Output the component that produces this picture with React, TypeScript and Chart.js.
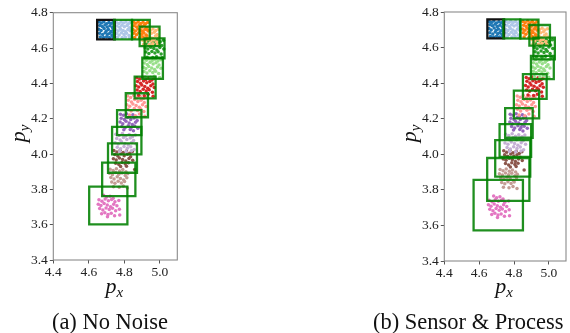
import React, { useEffect, useRef } from "react";
import { Chart, registerables } from "chart.js";
Chart.register(...registerables);

const FONT = '"Liberation Serif", "Times New Roman", serif';

const X_TICKS = [4.4, 4.6, 4.8, 5.0];
const Y_TICKS = [3.4, 3.6, 3.8, 4.0, 4.2, 4.4, 4.6, 4.8];
const X_MIN = 4.4;
const X_MAX = 5.098;
const Y_MIN = 3.4;
const Y_MAX = 4.8;

const STEP_COLORS = [
  "#1f77b4", "#aec7e8", "#ff7f0e", "#ffbb78", "#2ca02c", "#98df8a",
  "#d62728", "#ff9896", "#9467bd", "#c5b0d5", "#8c564b", "#c49c94", "#e377c2",
];

const blue = [
  [4.658,4.747],[4.671,4.741],[4.684,4.749],[4.699,4.738],[4.713,4.745],[4.727,4.740],[4.739,4.748],
  [4.662,4.728],[4.676,4.722],[4.691,4.731],[4.704,4.719],[4.719,4.726],[4.733,4.716],[4.741,4.731],
  [4.656,4.707],[4.669,4.699],[4.686,4.710],[4.698,4.697],[4.710,4.705],[4.725,4.694],[4.737,4.703],
  [4.661,4.684],[4.678,4.676],[4.692,4.687],[4.706,4.678],[4.718,4.683],[4.731,4.673],[4.740,4.687],
  [4.665,4.662],[4.683,4.660],[4.700,4.664],[4.716,4.659],[4.735,4.663],
];
const lightBlue = [
  [4.754,4.746],[4.768,4.739],[4.781,4.748],[4.795,4.741],[4.809,4.747],[4.822,4.736],[4.831,4.744],
  [4.758,4.725],[4.773,4.717],[4.786,4.729],[4.800,4.721],[4.815,4.727],[4.828,4.715],
  [4.752,4.703],[4.765,4.696],[4.779,4.707],[4.793,4.699],[4.807,4.692],[4.820,4.705],[4.832,4.698],
  [4.756,4.682],[4.771,4.674],[4.784,4.686],[4.798,4.677],[4.812,4.684],[4.826,4.671],
  [4.761,4.661],[4.788,4.659],[4.806,4.663],[4.829,4.660],
];
const orange = [
  [4.851,4.747],[4.864,4.740],[4.878,4.749],[4.892,4.739],[4.905,4.746],[4.919,4.737],[4.931,4.745],
  [4.855,4.726],[4.869,4.719],[4.883,4.730],[4.897,4.720],[4.911,4.728],[4.925,4.716],
  [4.849,4.705],[4.862,4.697],[4.876,4.708],[4.890,4.700],[4.903,4.693],[4.917,4.706],[4.932,4.699],
  [4.853,4.683],[4.868,4.675],[4.881,4.687],[4.895,4.678],[4.909,4.685],[4.923,4.672],
  [4.858,4.660],[4.886,4.658],[4.904,4.662],[4.927,4.657],
];
const lightOrange = [
  [4.900,4.709],[4.915,4.703],[4.930,4.711],[4.946,4.701],[4.961,4.708],[4.977,4.699],[4.992,4.706],
  [4.905,4.688],[4.921,4.680],[4.937,4.692],[4.952,4.683],[4.968,4.689],[4.984,4.677],
  [4.899,4.666],[4.913,4.659],[4.929,4.670],[4.944,4.662],[4.959,4.655],[4.975,4.668],[4.993,4.660],
  [4.903,4.644],[4.919,4.637],[4.934,4.648],[4.950,4.640],[4.966,4.646],[4.982,4.634],
  [4.909,4.621],[4.940,4.619],[4.960,4.624],[4.987,4.618],
];
const green = [
  [4.918,4.647],[4.934,4.640],[4.951,4.649],[4.968,4.638],[4.985,4.645],[5.002,4.636],[5.020,4.644],
  [4.922,4.625],[4.940,4.617],[4.957,4.629],[4.975,4.619],[4.992,4.627],[5.010,4.614],
  [4.917,4.601],[4.932,4.594],[4.949,4.605],[4.966,4.597],[4.983,4.589],[5.000,4.603],[5.022,4.595],
  [4.921,4.577],[4.938,4.569],[4.955,4.581],[4.972,4.572],[4.990,4.579],[5.007,4.566],
  [4.928,4.548],[4.960,4.546],[4.981,4.551],[5.013,4.545],
];
const lightGreen = [
  [4.908,4.538],[4.924,4.531],[4.940,4.540],[4.957,4.529],[4.973,4.536],[4.989,4.527],[5.005,4.534],
  [4.912,4.515],[4.929,4.507],[4.945,4.519],[4.962,4.509],[4.978,4.517],[4.995,4.504],
  [4.907,4.491],[4.921,4.484],[4.937,4.495],[4.954,4.487],[4.970,4.479],[4.986,4.493],[5.006,4.485],
  [4.911,4.467],[4.927,4.459],[4.943,4.471],[4.960,4.462],[4.976,4.469],[4.993,4.456],
  [4.917,4.436],[4.948,4.434],[4.968,4.440],[4.999,4.433],
];
const red = [
  [4.870,4.432],[4.886,4.425],[4.903,4.435],[4.921,4.422],[4.938,4.430],[4.955,4.419],[4.966,4.428],
  [4.874,4.410],[4.891,4.401],[4.908,4.413],[4.926,4.404],[4.943,4.411],[4.961,4.397],
  [4.866,4.387],[4.881,4.379],[4.898,4.390],[4.915,4.382],[4.932,4.373],[4.949,4.386],[4.968,4.377],
  [4.872,4.362],[4.889,4.354],[4.906,4.366],[4.923,4.357],[4.940,4.364],[4.958,4.350],
  [4.880,4.333],[4.912,4.330],[4.934,4.338],[4.962,4.327],
];
const lightRed = [
  [4.818,4.328],[4.835,4.320],[4.853,4.331],[4.871,4.318],[4.889,4.326],[4.907,4.314],[4.920,4.323],
  [4.822,4.304],[4.840,4.295],[4.858,4.308],[4.876,4.297],[4.894,4.305],[4.912,4.291],
  [4.814,4.279],[4.830,4.271],[4.848,4.283],[4.866,4.274],[4.884,4.265],[4.902,4.279],[4.922,4.269],
  [4.820,4.253],[4.838,4.244],[4.856,4.257],[4.874,4.247],[4.892,4.255],[4.910,4.240],
  [4.829,4.221],[4.862,4.216],[4.885,4.226],[4.915,4.214],
];
const purple = [
  [4.778,4.225],[4.795,4.219],[4.812,4.228],[4.830,4.214],[4.848,4.222],[4.866,4.211],
  [4.782,4.203],[4.800,4.196],[4.818,4.207],[4.836,4.195],[4.854,4.204],[4.872,4.190],
  [4.776,4.181],[4.791,4.172],[4.809,4.185],[4.827,4.176],[4.845,4.167],[4.863,4.180],
  [4.786,4.156],[4.804,4.148],[4.822,4.160],[4.840,4.151],[4.858,4.158],[4.876,4.146],
  [4.797,4.137],[4.833,4.139],[4.851,4.131],
];
const lightPurple = [
  [4.752,4.112],[4.770,4.105],[4.789,4.116],[4.808,4.102],[4.827,4.110],[4.846,4.098],[4.862,4.108],
  [4.757,4.088],[4.776,4.080],[4.795,4.093],[4.814,4.082],[4.833,4.090],[4.852,4.076],
  [4.748,4.064],[4.765,4.056],[4.784,4.069],[4.803,4.060],[4.822,4.051],[4.841,4.065],[4.866,4.057],
  [4.760,4.038],[4.779,4.030],[4.798,4.043],[4.817,4.033],[4.836,4.041],[4.855,4.026],
  [4.774,4.016],[4.810,4.014],[4.840,4.019],
];
const brown = [
  [4.741,4.020],[4.758,4.012],[4.776,4.022],[4.794,4.009],[4.812,4.017],[4.830,4.005],[4.845,4.014],
  [4.746,3.997],[4.763,3.989],[4.781,4.001],[4.799,3.990],[4.817,3.998],[4.835,3.984],
  [4.738,3.973],[4.754,3.966],[4.772,3.978],[4.790,3.969],[4.808,3.960],[4.826,3.974],[4.847,3.965],
  [4.751,3.948],[4.769,3.940],[4.787,3.952],[4.805,3.943],[4.823,3.950],
  [4.779,3.929],[4.812,3.931],[4.858,3.912],
];
const lightBrown = [
  [4.720,3.914],[4.737,3.907],[4.755,3.917],[4.773,3.904],[4.791,3.912],[4.809,3.900],
  [4.716,3.891],[4.733,3.883],[4.751,3.895],[4.769,3.885],[4.787,3.893],[4.805,3.879],[4.819,3.888],
  [4.724,3.867],[4.742,3.859],[4.760,3.871],[4.778,3.862],[4.796,3.853],[4.814,3.866],
  [4.729,3.842],[4.747,3.834],[4.765,3.846],[4.783,3.836],[4.801,3.844],
  [4.739,3.815],[4.771,3.812],[4.794,3.819],[4.817,3.808],
];
const pink = [
  [4.683,3.766],[4.700,3.756],[4.719,3.761],[4.737,3.749],
  [4.657,3.741],[4.674,3.733],[4.692,3.745],[4.710,3.736],[4.728,3.742],[4.747,3.730],[4.769,3.737],
  [4.653,3.716],[4.668,3.708],[4.686,3.720],[4.704,3.711],[4.722,3.702],[4.740,3.716],[4.758,3.707],
  [4.661,3.691],[4.679,3.683],[4.697,3.695],[4.715,3.686],[4.733,3.693],[4.751,3.679],[4.772,3.688],
  [4.672,3.662],[4.690,3.668],[4.708,3.658],[4.726,3.664],[4.745,3.651],[4.705,3.645],[4.774,3.655],
];

const CLUSTERS = [blue, lightBlue, orange, lightOrange, green, lightGreen, red, lightRed, purple, lightPurple, brown, lightBrown, pink];

// Box bounds, panel (a) No Noise
const boxXMinA = [4.647, 4.742, 4.843, 4.886, 4.914, 4.901, 4.858, 4.808, 4.759, 4.731, 4.708, 4.675, 4.602];
const boxXMaxA = [4.746, 4.843, 4.943, 4.998, 5.026, 5.017, 4.976, 4.933, 4.896, 4.896, 4.871, 4.862, 4.817];
const boxYMinA = [4.649, 4.649, 4.649, 4.611, 4.542, 4.425, 4.315, 4.208, 4.107, 3.998, 3.894, 3.762, 3.602];
const boxYMaxA = [4.759, 4.759, 4.759, 4.721, 4.655, 4.545, 4.438, 4.344, 4.249, 4.154, 4.060, 3.951, 3.815];

// Box bounds, panel (b) Sensor & Process
const boxXMinB = [4.647, 4.739, 4.836, 4.888, 4.911, 4.897, 4.851, 4.799, 4.749, 4.717, 4.692, 4.646, 4.568];
const boxXMaxB = [4.743, 4.836, 4.940, 5.006, 5.034, 5.028, 4.987, 4.944, 4.907, 4.898, 4.893, 4.888, 4.851];
const boxYMinB = [4.652, 4.652, 4.650, 4.611, 4.534, 4.423, 4.311, 4.202, 4.093, 3.985, 3.874, 3.738, 3.572];
const boxYMaxB = [4.758, 4.758, 4.757, 4.727, 4.656, 4.553, 4.451, 4.358, 4.259, 4.170, 4.080, 3.979, 3.856];

const BOX_GREEN = "rgba(0,128,0,0.88)";
const BOX_BLACK = "#111111";

function drawSub(ctx: CanvasRenderingContext2D, main: string, sub: string, cx: number, base: number) {
  ctx.font = `italic 22px ${FONT}`;
  const wm = ctx.measureText(main).width;
  ctx.font = `italic 15px ${FONT}`;
  const ws = ctx.measureText(sub).width;
  const x0 = cx - (wm + ws) / 2;
  ctx.textAlign = "left";
  ctx.textBaseline = "alphabetic";
  ctx.font = `italic 22px ${FONT}`;
  ctx.fillText(main, x0, base);
  ctx.font = `italic 15px ${FONT}`;
  ctx.fillText(sub, x0 + wm, base + 4);
}

type Geom = {
  padLeft: number; padRight: number; padTop: number; xAxisH: number;
  caption: string; captionX: number; yLabelX: number;
};

function buildChart(canvas: HTMLCanvasElement, xMin: number[], xMax: number[], yMin: number[], yMax: number[], g: Geom) {
  const datasets: any[] = [];
  CLUSTERS.forEach((pts, i) => {
    datasets.push({
      data: pts.map(([x, y]) => ({ x, y })),
      pointRadius: 1.75,
      pointBorderWidth: 0,
      pointBackgroundColor: STEP_COLORS[i],
      borderColor: STEP_COLORS[i],
      showLine: false,
      order: 100,
    });
  });
  xMin.forEach((_, i) => {
    const x0 = xMin[i], x1 = xMax[i], y0 = yMin[i], y1 = yMax[i];
    datasets.push({
      data: [{ x: x0, y: y0 }, { x: x1, y: y0 }, { x: x1, y: y1 }, { x: x0, y: y1 }, { x: x0, y: y0 }],
      showLine: true,
      pointRadius: 0,
      borderColor: i === 0 ? BOX_BLACK : BOX_GREEN,
      borderWidth: 2.3,
      borderJoinStyle: "miter",
      borderCapStyle: "square",
      fill: false,
      tension: 0,
      order: xMin.length - i,
    });
  });

  const deco = {
    id: "deco",
    afterDraw(chart: any) {
      const { ctx, chartArea: a } = chart;
      ctx.save();
      ctx.strokeStyle = "#8a8a8a";
      ctx.lineWidth = 1.1;
      ctx.strokeRect(a.left, a.top, a.right - a.left, a.bottom - a.top);
      ctx.fillStyle = "#111";
      drawSub(ctx, "p", "x", (a.left + a.right) / 2 - 1, 293);
      ctx.save();
      ctx.translate(g.yLabelX, (a.top + a.bottom) / 2 - 3);
      ctx.rotate(-Math.PI / 2);
      drawSub(ctx, "p", "y", 0, 0);
      ctx.restore();
      ctx.font = `22.5px ${FONT}`;
      ctx.textAlign = "center";
      ctx.textBaseline = "alphabetic";
      ctx.fillText(g.caption, g.captionX, 329);
      ctx.restore();
    },
  };

  return new Chart(canvas, {
    type: "scatter",
    data: { datasets },
    options: {
      animation: false,
      responsive: false,
      events: [],
      layout: { padding: { left: g.padLeft, right: g.padRight, top: g.padTop, bottom: 0 } },
      plugins: { legend: { display: false }, tooltip: { enabled: false } },
      scales: {
        x: {
          type: "linear",
          min: X_MIN,
          max: X_MAX,
          afterBuildTicks: (s: any) => { s.ticks = X_TICKS.map((v) => ({ value: v })); },
          afterFit: (s: any) => { s.height = g.xAxisH; },
          ticks: {
            callback: (v: any) => Number(v).toFixed(1),
            font: { family: FONT, size: 13.5 },
            color: "#222",
            padding: 1,
            maxRotation: 0,
            autoSkip: false,
          },
          grid: { display: true, drawOnChartArea: false, drawTicks: true, tickLength: 3.5, tickColor: "#555", tickWidth: 1 },
          border: { display: false },
        },
        y: {
          type: "linear",
          min: Y_MIN,
          max: Y_MAX,
          afterBuildTicks: (s: any) => { s.ticks = Y_TICKS.map((v) => ({ value: v })); },
          afterFit: (s: any) => { s.width = 53.3; },
          ticks: {
            callback: (v: any) => Number(v).toFixed(1),
            font: { family: FONT, size: 13.5 },
            color: "#222",
            padding: 2,
            autoSkip: false,
          },
          grid: { display: true, drawOnChartArea: false, drawTicks: true, tickLength: 3.5, tickColor: "#555", tickWidth: 1 },
          border: { display: false },
        },
      },
    },
    plugins: [deco],
  } as any);
}

export default function App() {
  const refA = useRef<HTMLCanvasElement>(null);
  const refB = useRef<HTMLCanvasElement>(null);
  useEffect(() => {
    const a = buildChart(refA.current!, boxXMinA, boxXMaxA, boxYMinA, boxYMaxA, {
      padLeft: 0, padRight: 570 - 177.3, padTop: 12.7, xAxisH: 333 - 260,
      caption: "(a) No Noise", captionX: 110, yLabelX: 25,
    });
    const b = buildChart(refB.current!, boxXMinB, boxXMaxB, boxYMinB, boxYMaxB, {
      padLeft: 444.3 - 53.3, padRight: 0.5, padTop: 12, xAxisH: 333 - 261,
      caption: "(b) Sensor & Process", captionX: 468.3, yLabelX: 416,
    });
    return () => { a.destroy(); b.destroy(); };
  }, []);
  const cs: React.CSSProperties = { position: "absolute", left: 0, top: 0, width: 570, height: 333 };
  return (
    <div style={{ position: "fixed", left: 0, top: 0, width: 570, height: 333, background: "#fff" }}>
      <canvas ref={refA} width={570} height={333} style={cs} />
      <canvas ref={refB} width={570} height={333} style={cs} />
    </div>
  );
}
